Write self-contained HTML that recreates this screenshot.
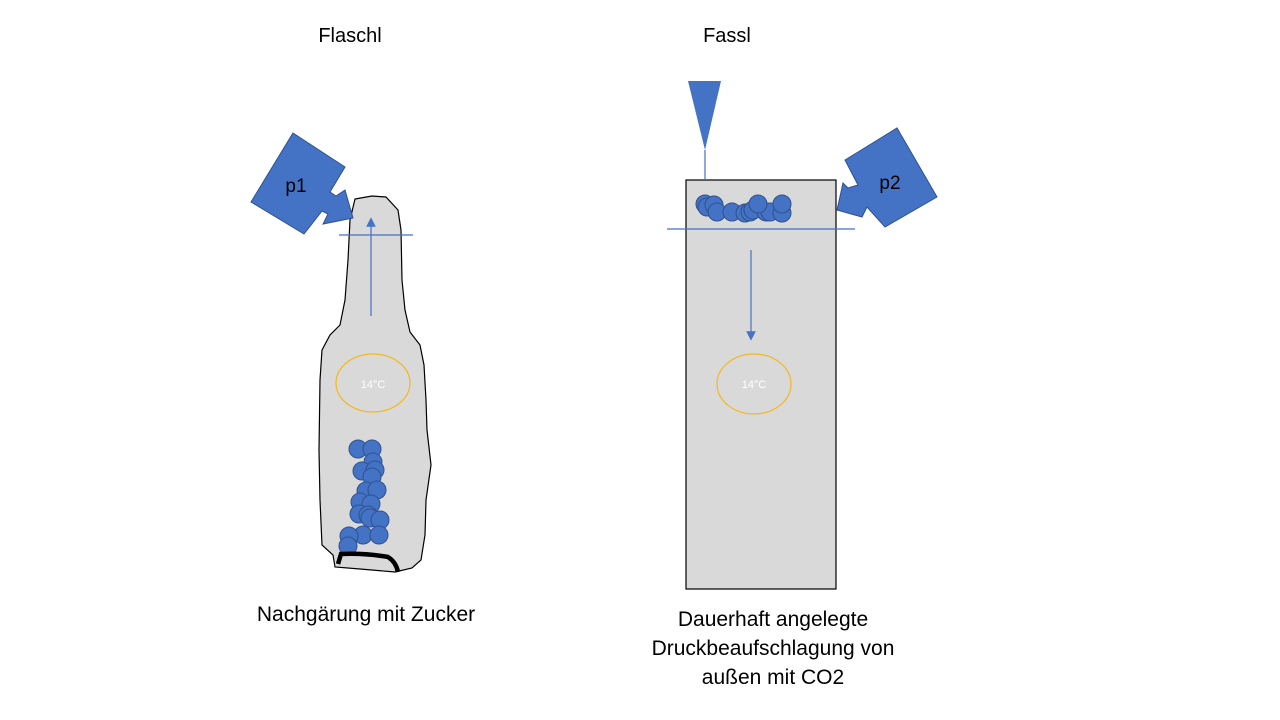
<!DOCTYPE html>
<html><head><meta charset="utf-8"><style>
html,body{margin:0;padding:0;background:#fff;}
svg{display:block;}
text{font-family:"Liberation Sans",sans-serif;}
</style></head><body>
<svg width="1280" height="720" viewBox="0 0 1280 720" xmlns="http://www.w3.org/2000/svg">
<defs><marker id="ah" markerWidth="8" markerHeight="8" refX="4" refY="4" orient="auto"><path d="M0,0 L8,4 L0,8 Z" fill="#4472C4"/></marker></defs>
<text x="350" y="42" font-size="20" text-anchor="middle" fill="#000">Flaschl</text>
<text x="727" y="42" font-size="20" text-anchor="middle" fill="#000">Fassl</text>

<!-- bottle -->
<path d="M355,199 L372,196 L386,197 L398,210 L401,230 L402,280 L405,310 L410,332 L420,345 L424,365 L426,400 L427,430 L431,465 L426,500 L425,535 L421,560 L412,568 L395,572 L360,569 L335,567 L333,555 L322,545 L320,500 L319,450 L320,380 L322,350 L330,335 L340,325 L345,300 L348,260 L350,220 Z" fill="#d9d9d9" stroke="#000" stroke-width="1.2"/>
<line x1="339" y1="235" x2="413" y2="235" stroke="#4472C4" stroke-width="1.2"/>
<line x1="371" y1="316" x2="371" y2="222" stroke="#4472C4" stroke-width="1.2" marker-end="url(#ah)"/>
<ellipse cx="373" cy="383" rx="37" ry="29" fill="none" stroke="#F4B81C" stroke-width="1.2"/>
<text x="373" y="388" font-size="11" fill="#fff" text-anchor="middle">14°C</text>
<g fill="#4472C4" stroke="#2F528F" stroke-width="1">
<circle cx="358" cy="449" r="9"/><circle cx="372" cy="449" r="9"/><circle cx="373" cy="462" r="9"/><circle cx="362" cy="471" r="9"/><circle cx="375" cy="470" r="9"/><circle cx="372" cy="477" r="9"/><circle cx="366" cy="491" r="9"/><circle cx="377" cy="490" r="9"/><circle cx="360" cy="502" r="9"/><circle cx="371" cy="504" r="9"/><circle cx="359" cy="514" r="9"/><circle cx="368" cy="515" r="9"/><circle cx="370" cy="518" r="9"/><circle cx="380" cy="520" r="9"/><circle cx="363" cy="535" r="9"/><circle cx="379" cy="535" r="9"/><circle cx="349" cy="536" r="9"/><circle cx="348" cy="546" r="9"/>
</g>
<path d="M338,564 L341,554 Q365,553 388,557 Q396,562 398,572" fill="none" stroke="#000" stroke-width="4.5"/>

<!-- p1 -->
<polygon points="293,133 345,167 330,192 336,196 345,190 353,218 323,224 328,214 322,211 304,234 251,202" fill="#4472C4" stroke="#2F528F" stroke-width="1"/>
<text x="296" y="192" font-size="19" fill="#000" text-anchor="middle">p1</text>

<!-- barrel -->
<rect x="686" y="180" width="150" height="409" fill="#d9d9d9" stroke="#000" stroke-width="1.2"/>
<polygon points="688,81 721,81 705,150" fill="#4472C4"/>
<line x1="705" y1="150" x2="705" y2="180" stroke="#4472C4" stroke-width="1.2"/>
<g fill="#4472C4" stroke="#2F528F" stroke-width="1">
<circle cx="705" cy="204" r="9"/><circle cx="707" cy="207" r="9"/><circle cx="714" cy="205" r="9"/><circle cx="717" cy="212" r="9"/><circle cx="732" cy="212" r="9"/><circle cx="745" cy="213" r="9"/><circle cx="750" cy="212" r="9"/><circle cx="753" cy="210" r="9"/><circle cx="766" cy="212" r="9"/><circle cx="770" cy="212" r="9"/><circle cx="782" cy="213" r="9"/><circle cx="782" cy="204" r="9"/><circle cx="758" cy="204" r="9"/>
</g>
<line x1="667" y1="229" x2="855" y2="229" stroke="#4472C4" stroke-width="1.2"/>
<line x1="751" y1="250" x2="751" y2="336" stroke="#4472C4" stroke-width="1.2" marker-end="url(#ah)"/>
<ellipse cx="754" cy="384" rx="37" ry="30" fill="none" stroke="#F4B81C" stroke-width="1.2"/>
<text x="754" y="388" font-size="11" fill="#fff" text-anchor="middle">14°C</text>

<!-- p2 -->
<polygon points="845,160 897,128 937,197 885,227 867,207 862,217 837,210 843,183 848,188 858,185" fill="#4472C4" stroke="#2F528F" stroke-width="1"/>
<text x="890" y="189" font-size="19" fill="#000" text-anchor="middle">p2</text>

<text x="366" y="621" font-size="21" text-anchor="middle" fill="#000">Nachgärung mit Zucker</text>
<text x="773" y="626" font-size="21" text-anchor="middle" fill="#000">Dauerhaft angelegte</text>
<text x="773" y="655" font-size="21" text-anchor="middle" fill="#000">Druckbeaufschlagung von</text>
<text x="773" y="684" font-size="21" text-anchor="middle" fill="#000">außen mit CO2</text>
</svg>
</body></html>
